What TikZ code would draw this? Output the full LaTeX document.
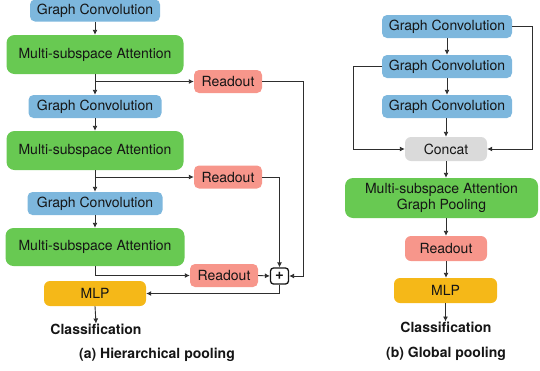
\documentclass[tikz,border=0pt]{standalone}
\usepackage{fontspec}
\setmainfont{TeX Gyre Heros}
\usetikzlibrary{arrows.meta}
\definecolor{gcblue}{HTML}{7DB7DD}
\definecolor{msagreen}{HTML}{68C952}
\definecolor{ropink}{HTML}{F7968B}
\definecolor{mlpyellow}{HTML}{F5B818}
\definecolor{catgray}{HTML}{DADADA}
\definecolor{linegray}{HTML}{2E2E2E}
\definecolor{txt}{HTML}{151515}
\begin{document}
\begin{tikzpicture}[x=1pt,y=-1pt,
  box/.style={rectangle,rounded corners=5pt,inner sep=0pt,text=txt,font=\fontsize{14}{16}\selectfont,align=center},
  gcbox/.style={box,fill=gcblue,minimum width=130pt,minimum height=22pt},
  msabox/.style={box,fill=msagreen,rounded corners=8pt,minimum width=177pt,minimum height=39pt},
  robox/.style={box,fill=ropink,minimum width=68pt,minimum height=23pt},
  mlpbox/.style={box,fill=mlpyellow,rounded corners=6pt,minimum width=102pt,minimum height=25pt},
  catbox/.style={box,fill=catgray,rounded corners=6pt,minimum width=82pt,minimum height=24pt},
  lbl/.style={text=txt,font=\bfseries\fontsize{14}{16}\selectfont,inner sep=0pt},
  arr/.style={draw=linegray,line width=0.9pt,-{Latex[length=5pt,width=5pt]}},
  ln/.style={draw=linegray,line width=0.9pt}
]
\useasboundingbox (0,0) rectangle (540,370);

% ---- (a) hierarchical pooling ----
\node[gcbox] (gc1) at (95,10.5) {Graph Convolution};
\node[msabox] (msa1) at (95,54.5) {Multi-subspace Attention};
\node[robox] (ro1) at (228,81.5) {Readout};
\node[gcbox,minimum width=133pt,minimum height=23pt] (gc2) at (95,106.5) {Graph Convolution};
\node[msabox] (msa2) at (95,150.5) {Multi-subspace Attention};
\node[robox] (ro2) at (228,177) {Readout};
\node[gcbox,minimum width=135pt,minimum height=23pt] (gc3) at (95,203.5) {Graph Convolution};
\node[msabox,minimum width=179pt,minimum height=38pt] (msa3) at (95,247) {Multi-subspace Attention};
\node[robox] (ro3) at (224,275.5) {Readout};
\node[draw=txt,line width=1.3pt,rounded corners=3pt,minimum width=18pt,minimum height=16pt,inner sep=0pt,text=txt,font=\bfseries\fontsize{15}{15}\selectfont] (plus) at (279.5,276) {+};
\node[mlpbox] (mlp) at (95,293.5) {MLP};
\node[lbl] (cls) at (96,329) {Classification};
\node[lbl] (capa) at (157,355) {(a) Hierarchical pooling};

\coordinate (k1) at (303,0);

\draw[arr] (gc1.south) -- (msa1.north);
\draw[arr] (msa1.south) -- (gc2.north);
\draw[arr] (msa1.south |- ro1.west) -- (ro1.west);
\draw[arr] (gc2.south) -- (msa2.north);
\draw[arr] (msa2.south) -- (gc3.north);
\draw[arr] (msa2.south |- ro2.west) -- (ro2.west);
\draw[arr] (gc3.south) -- (msa3.north);
\draw[arr] (msa3.south) |- (ro3.west);
\draw[arr] (ro3.east) -- (plus.west);
\draw[arr] (ro2.east) -| (plus.north);
\draw[arr] (ro1.east) -- (ro1.east -| k1) |- (plus.east);
\draw[arr] (plus.south) |- (mlp.east);
\draw[arr] (mlp.south) -- (cls.north);

% ---- (b) global pooling ----
\node[gcbox,minimum height=23pt] (ga) at (447,26.5) {Graph Convolution};
\node[gcbox,minimum height=23pt] (gb) at (447,66.5) {Graph Convolution};
\node[gcbox,minimum height=23pt] (gcc) at (447,106.5) {Graph Convolution};
\node[catbox] (cat) at (446,149) {Concat};
\node[msabox,minimum width=193pt,minimum height=40pt,font=\fontsize{14}{16}\selectfont] (msagp) at (441.5,198) {Multi-subspace Attention\\Graph Pooling};
\node[robox,minimum width=82pt,minimum height=25pt,rounded corners=6pt] (rob) at (446,248.5) {Readout};
\node[mlpbox,minimum width=103pt] (mlpb) at (445.5,290.5) {MLP};
\node[lbl] (clsb) at (446,327) {Classification};
\node[lbl] (capb) at (446,354) {(b) Global pooling};

\coordinate (k2) at (532,0);
\coordinate (k3) at (353,0);

\draw[arr] (ga.south) -- (gb.north);
\draw[arr] (gb.south) -- (gcc.north);
\draw[arr] (gcc.south -| cat.north) -- (cat.north);
\draw[arr] (ga.east) -- (ga.east -| k2) |- (cat.east);
\draw[arr] (gb.west) -- (gb.west -| k3) |- (cat.west);
\draw[arr] (cat.south) -- (cat.south |- msagp.north);
\draw[arr] (msagp.south -| rob.north) -- (rob.north);
\draw[arr] (rob.south) -- (rob.south |- mlpb.north);
\draw[arr] (mlpb.south) -- (mlpb.south |- clsb.north);
\end{tikzpicture}
\end{document}
